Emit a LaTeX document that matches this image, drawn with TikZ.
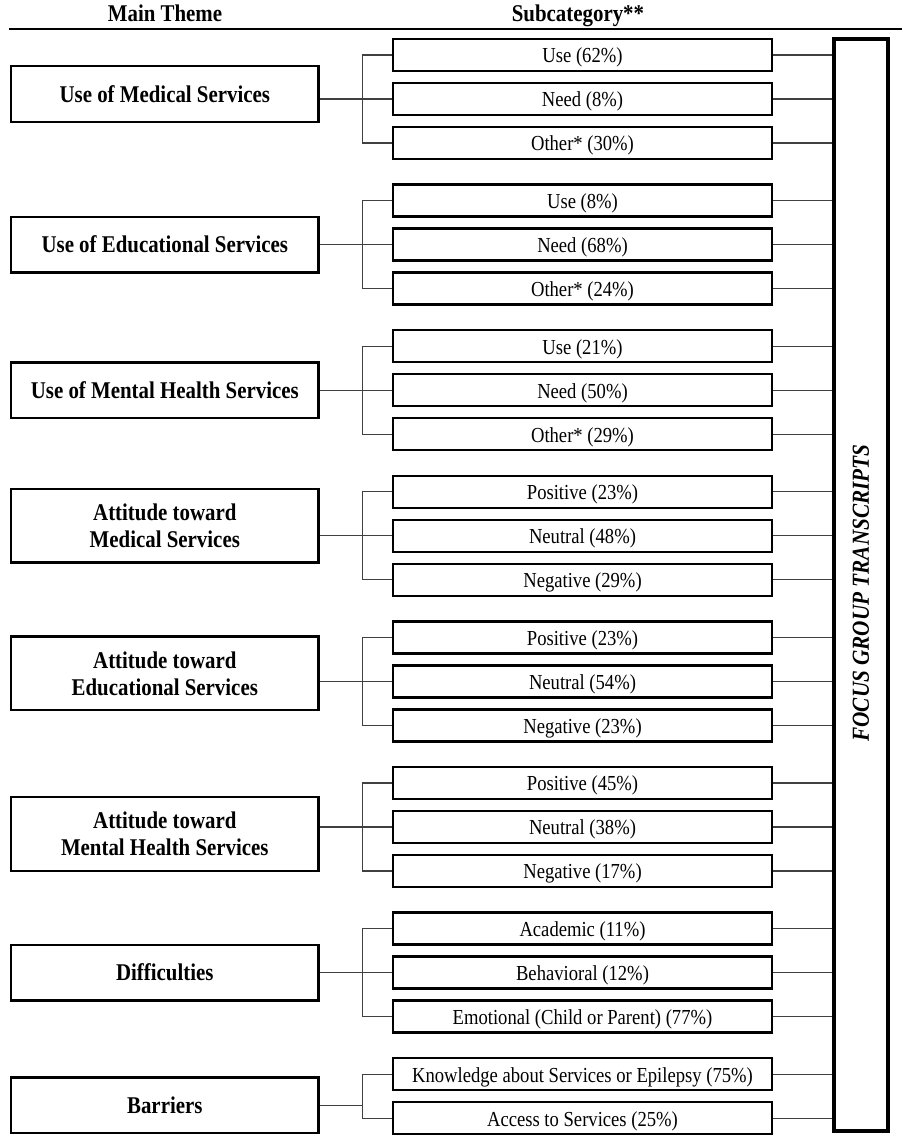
\documentclass[tikz,border=0pt]{standalone}
\usepackage{fontspec}
\setmainfont[FakeStretch=0.87]{Liberation Serif}
\usetikzlibrary{positioning}

\begin{document}
\begin{tikzpicture}[
    x=0.5pt, y=0.5pt,
    themebox/.style={draw, rectangle, line width=1.2pt, minimum width=153.8pt, minimum height=27.8pt, inner sep=0pt, align=center, font=\fontsize{12}{13.5}\selectfont\bfseries},
    twoline/.style={minimum height=36.8pt},
    subbox/.style={draw, rectangle, line width=1.2pt, minimum width=189.5pt, minimum height=16pt, inner sep=0pt, text height=8.2pt, text depth=0.3pt, font=\fontsize{10.7}{12}\selectfont},
    sidebox/.style={draw, rectangle, line width=1.8pt, rotate=90, minimum width=546.2pt, minimum height=27.2pt, inner sep=0pt, font=\fontsize{12.2}{14}\selectfont\bfseries\itshape},
    header/.style={anchor=base, font=\fontsize{12}{14}\selectfont\bfseries},
    link/.style={black!75, line width=0.6pt},
]
\useasboundingbox (0,0) rectangle (902,-1136);

% --- headings ---
\node [header] (mainhead) at (165,-21) {Main Theme};
\node [header] (subhead) at (578,-21) {Subcategory**};
\coordinate (ruleleft) at (9,-29);
\coordinate (ruleright) at (902,-29);
\draw [line width=0.6pt] (ruleleft) -- (ruleright);

% --- use of medical services ---
\node [subbox] (meduse) at (582.5,-55) {Use (62\%)};
\node [
    subbox,
    below=4.8pt of meduse,
] (medneed) {Need (8\%)};
\node [
    subbox,
    below=4.8pt of medneed,
] (medother) {Other* (30\%)};
\node [
    themebox,
    left=36pt of medneed,
    yshift=2.5pt,
] (medtheme) {Use of Medical Services};

% --- use of educational services ---
\node [
    subbox,
    below=11.6pt of medother,
] (eduuse) {Use (8\%)};
\node [
    subbox,
    below=4.8pt of eduuse,
] (eduneed) {Need (68\%)};
\node [
    subbox,
    below=4.8pt of eduneed,
] (eduother) {Other* (24\%)};
\node [
    themebox,
    left=36pt of eduneed,
] (edutheme) {Use of Educational Services};

% --- use of mental health services ---
\node [
    subbox,
    below=11.6pt of eduother,
] (mhuse) {Use (21\%)};
\node [
    subbox,
    below=4.8pt of mhuse,
] (mhneed) {Need (50\%)};
\node [
    subbox,
    below=4.8pt of mhneed,
] (mhother) {Other* (29\%)};
\node [
    themebox,
    left=36pt of mhneed,
] (mhtheme) {Use of Mental Health Services};

% --- attitude toward medical services ---
\node [
    subbox,
    below=11.6pt of mhother,
] (attmedpos) {Positive (23\%)};
\node [
    subbox,
    below=4.8pt of attmedpos,
] (attmedneu) {Neutral (48\%)};
\node [
    subbox,
    below=4.8pt of attmedneu,
] (attmedneg) {Negative (29\%)};
\node [
    themebox,
    twoline,
    left=36pt of attmedneu,
    yshift=5pt,
] (attmedtheme) {Attitude toward\\Medical Services};

% --- attitude toward educational services ---
\node [
    subbox,
    below=11.6pt of attmedneg,
] (attedupos) {Positive (23\%)};
\node [
    subbox,
    below=4.8pt of attedupos,
] (atteduneu) {Neutral (54\%)};
\node [
    subbox,
    below=4.8pt of atteduneu,
] (atteduneg) {Negative (23\%)};
\node [
    themebox,
    twoline,
    left=36pt of atteduneu,
    yshift=4pt,
] (attedutheme) {Attitude toward\\Educational Services};

% --- attitude toward mental health services ---
\node [
    subbox,
    below=11.6pt of atteduneg,
] (attmhpos) {Positive (45\%)};
\node [
    subbox,
    below=4.8pt of attmhpos,
] (attmhneu) {Neutral (38\%)};
\node [
    subbox,
    below=4.8pt of attmhneu,
] (attmhneg) {Negative (17\%)};
\node [
    themebox,
    twoline,
    left=36pt of attmhneu,
    yshift=-3.5pt,
] (attmhtheme) {Attitude toward\\Mental Health Services};

% --- difficulties ---
\node [
    subbox,
    below=11.6pt of attmhneg,
] (diffacad) {Academic (11\%)};
\node [
    subbox,
    below=4.8pt of diffacad,
] (diffbeh) {Behavioral (12\%)};
\node [
    subbox,
    below=4.8pt of diffbeh,
] (diffemo) {Emotional (Child or Parent) (77\%)};
\node [
    themebox,
    left=36pt of diffbeh,
] (difftheme) {Difficulties};

% --- barriers ---
\node [
    subbox,
    below=11.6pt of diffemo,
] (barknow) {Knowledge about Services or Epilepsy (75\%)};
\node [
    subbox,
    below=4.8pt of barknow,
] (baraccess) {Access to Services (25\%)};
\node [
    themebox,
    left=36pt of baraccess,
    yshift=6.4pt,
] (bartheme) {Barriers};

% --- transcripts ---
\node [sidebox] (side) at (861,-585) {FOCUS GROUP TRANSCRIPTS\hspace*{8pt}};

% --- brackets ---
\begin{scope}[link]
\draw (meduse.west) -- ++(-29,0) |- (medother.west);
\draw (medtheme.east |- medneed.west) -- (medneed.west);

\draw (eduuse.west) -- ++(-29,0) |- (eduother.west);
\draw (edutheme.east |- eduneed.west) -- (eduneed.west);

\draw (mhuse.west) -- ++(-29,0) |- (mhother.west);
\draw (mhtheme.east |- mhneed.west) -- (mhneed.west);

\draw (attmedpos.west) -- ++(-29,0) |- (attmedneg.west);
\draw (attmedtheme.east |- attmedneu.west) -- (attmedneu.west);

\draw (attedupos.west) -- ++(-29,0) |- (atteduneg.west);
\draw (attedutheme.east |- atteduneu.west) -- (atteduneu.west);

\draw (attmhpos.west) -- ++(-29,0) |- (attmhneg.west);
\draw (attmhtheme.east |- attmhneu.west) -- (attmhneu.west);

\draw (diffacad.west) -- ++(-29,0) |- (diffemo.west);
\draw (difftheme.east |- diffbeh.west) -- (diffbeh.west);

\draw (barknow.west) -- ++(-29,0) |- (baraccess.west);
\draw (bartheme.east) -| ([xshift=-14.5pt]baraccess.west);
\end{scope}

% --- into transcripts ---
\begin{scope}[link]
\draw (meduse.east) -- (meduse.east -| side.north);
\draw (medneed.east) -- (medneed.east -| side.north);
\draw (medother.east) -- (medother.east -| side.north);
\draw (eduuse.east) -- (eduuse.east -| side.north);
\draw (eduneed.east) -- (eduneed.east -| side.north);
\draw (eduother.east) -- (eduother.east -| side.north);
\draw (mhuse.east) -- (mhuse.east -| side.north);
\draw (mhneed.east) -- (mhneed.east -| side.north);
\draw (mhother.east) -- (mhother.east -| side.north);
\draw (attmedpos.east) -- (attmedpos.east -| side.north);
\draw (attmedneu.east) -- (attmedneu.east -| side.north);
\draw (attmedneg.east) -- (attmedneg.east -| side.north);
\draw (attedupos.east) -- (attedupos.east -| side.north);
\draw (atteduneu.east) -- (atteduneu.east -| side.north);
\draw (atteduneg.east) -- (atteduneg.east -| side.north);
\draw (attmhpos.east) -- (attmhpos.east -| side.north);
\draw (attmhneu.east) -- (attmhneu.east -| side.north);
\draw (attmhneg.east) -- (attmhneg.east -| side.north);
\draw (diffacad.east) -- (diffacad.east -| side.north);
\draw (diffbeh.east) -- (diffbeh.east -| side.north);
\draw (diffemo.east) -- (diffemo.east -| side.north);
\draw (barknow.east) -- (barknow.east -| side.north);
\draw (baraccess.east) -- (baraccess.east -| side.north);
\end{scope}

\end{tikzpicture}
\end{document}
